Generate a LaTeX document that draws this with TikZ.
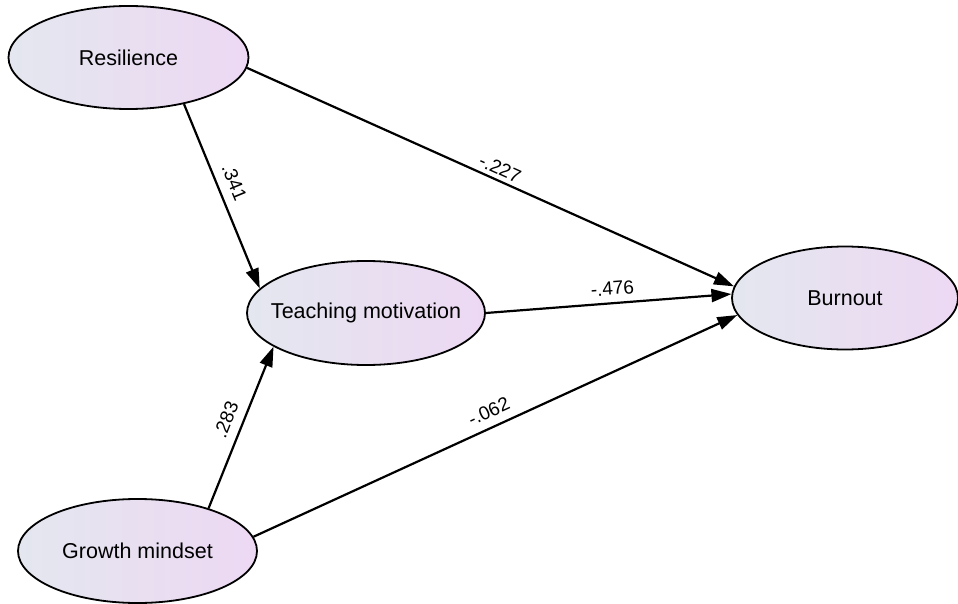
\documentclass[tikz,border=0pt]{standalone}
\usepackage{fontspec}
\setmainfont{Liberation Sans}
\usetikzlibrary{shapes.geometric,arrows.meta}
\definecolor{ellL}{RGB}{228,231,239}
\definecolor{ellR}{RGB}{237,216,243}
\newcommand{\ztext}[1]{\makebox[0pt][c]{#1}}
\begin{document}
\begin{tikzpicture}[x=1pt,y=-1pt,
  latent/.style={ellipse,draw=black,line width=1.8pt,left color=ellL,right color=ellR,inner sep=0pt,font=\fontsize{21.5}{24}\selectfont},
  regpath/.style={line width=2.2pt,-{Triangle[length=20pt,width=13pt]}},
  coef/.style={font=\fontsize{19}{21}\selectfont,sloped,inner sep=0pt}]
\useasboundingbox (0,0) rectangle (958,604);
\node[latent,minimum width=240pt,minimum height=103pt] (res) at (128.5,57.5) {\ztext{Resilience}};
\node[latent,minimum width=238pt,minimum height=104pt] (tm) at (366,313) {\ztext{Teaching motivation}};
\node[latent,minimum width=226pt,minimum height=103pt] (bo) at (845,298) {\ztext{Burnout}};
\node[latent,minimum width=239pt,minimum height=104pt] (gm) at (137.5,551) {\ztext{Growth mindset}};
\draw[regpath] (res.-40) -- node[coef,pos=0.46,above=9pt] (c1) {.341} (tm.167);
\draw[regpath] (res.-5) -- node[coef,pos=0.51,above=4pt] (c2) {-.227} (bo.174);
\draw[regpath] (tm.east) -- node[coef,pos=0.52,above=7pt] (c3) {-.476} (bo.178);
\draw[regpath] (gm.31) -- node[coef,pos=0.51,above=9pt] (c4) {.283} (tm.200);
\draw[regpath] (gm.7) -- node[coef,pos=0.50,above=8pt] (c5) {-.062} (bo.189);
\end{tikzpicture}
\end{document}
